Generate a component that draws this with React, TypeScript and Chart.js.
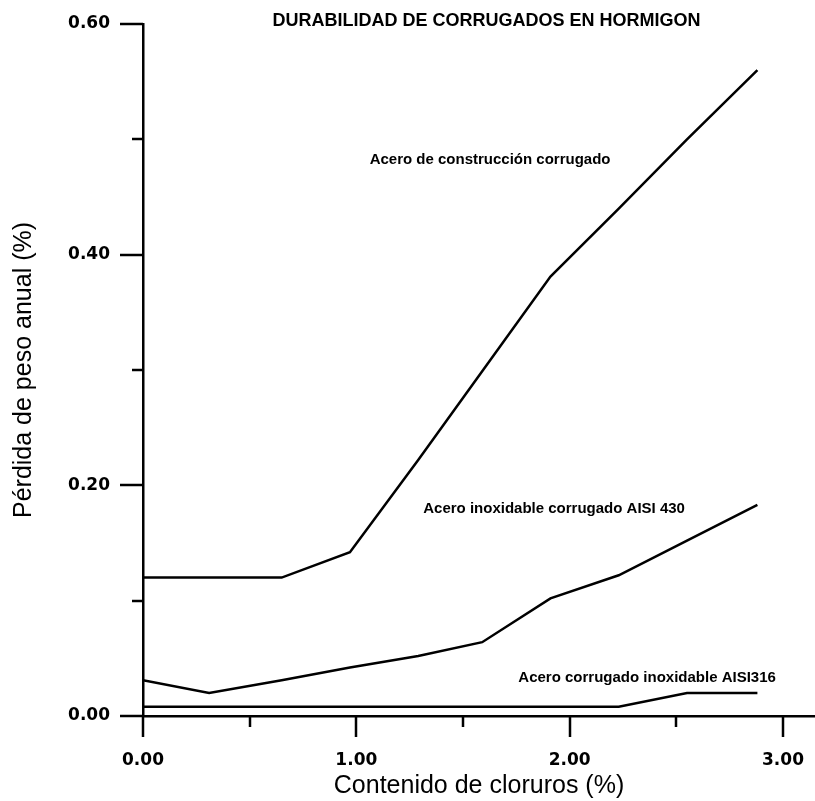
import React, { useEffect, useRef } from "react";
import { Chart, registerables } from "chart.js";

Chart.register(...registerables);

// ---- data ----
const chlorideContent = [0, 0.31, 0.65, 0.97, 1.29, 1.59, 1.91, 2.23, 2.55, 2.88];
const constructionSteel = [0.12, 0.12, 0.12, 0.142, 0.222, 0.299, 0.381, 0.44, 0.5, 0.56];
const stainless430 = [0.031, 0.02, 0.031, 0.042, 0.052, 0.064, 0.102, 0.122, 0.152, 0.183];
const stainless316 = [0.008, 0.008, 0.008, 0.008, 0.008, 0.008, 0.008, 0.008, 0.02, 0.02];

const seriesNames = [
  "Acero de construcción corrugado",
  "Acero inoxidable corrugado AISI 430",
  "Acero corrugado inoxidable AISI316",
];
const chartTitle = "DURABILIDAD DE CORRUGADOS EN HORMIGON";
const xAxisTitle = "Contenido de cloruros (%)";
const yAxisTitle = "Pérdida de peso anual (%)";

// axis ranges / tick steps
const xRange = [0, 3.15];
const yRange = [0, 0.6];
const xTickStep = 0.5;
const yTickStep = 0.1;

// label anchors (data coordinates, layout only)
const labelAnchorX = [1.627, 1.927, 2.363];
const labelAnchorY = [0.482, 0.1795, 0.033];
const titleAnchorX = 1.61;

const TICK_FONT = { family: "'DejaVu Sans', sans-serif", size: 17, weight: "bold" as const };
const SANS = "'Liberation Sans', Arial, sans-serif";

const isMajorX = (v: number) => Math.abs(v - Math.round(v)) < 1e-6;
const isMajorY = (v: number) => Math.round(v * 10) % 2 === 0;

const decorPlugin = {
  id: "decor",
  afterDraw(chart: any) {
    const { ctx, scales, chartArea } = chart;
    const xs = scales.x;
    const ys = scales.y;
    ctx.save();
    ctx.strokeStyle = "#000";
    ctx.lineWidth = 2.5;
    ctx.lineCap = "butt";
    xs.ticks.forEach((t: any) => {
      const px = Math.round(xs.getPixelForValue(t.value));
      const len = isMajorX(t.value) ? 21 : 11;
      ctx.beginPath();
      ctx.moveTo(px, chartArea.bottom);
      ctx.lineTo(px, chartArea.bottom + len);
      ctx.stroke();
    });
    ys.ticks.forEach((t: any) => {
      const py = Math.round(ys.getPixelForValue(t.value));
      const len = isMajorY(t.value) ? 23 : 11;
      ctx.beginPath();
      ctx.moveTo(chartArea.left, py);
      ctx.lineTo(chartArea.left - len, py);
      ctx.stroke();
    });
    ctx.fillStyle = "#000";
    ctx.textAlign = "center";
    ctx.textBaseline = "middle";
    ctx.font = `bold 18px ${SANS}`;
    ctx.fillText(chartTitle, xs.getPixelForValue(titleAnchorX), chartArea.top - 3);
    ctx.font = `bold 15px ${SANS}`;
    seriesNames.forEach((name, i) => {
      ctx.fillText(name, xs.getPixelForValue(labelAnchorX[i]), ys.getPixelForValue(labelAnchorY[i]));
    });
    ctx.restore();
  },
};

export default function App() {
  const canvasRef = useRef<HTMLCanvasElement | null>(null);

  useEffect(() => {
    if (!canvasRef.current) return;
    const toPoints = (ys: number[]) => chlorideContent.map((x, i) => ({ x, y: ys[i] }));
    const lineStyle = {
      borderColor: "#000",
      backgroundColor: "#000",
      borderWidth: 2.5,
      pointRadius: 0,
      tension: 0,
      fill: false,
    };
    const chart = new Chart(canvasRef.current, {
      type: "line",
      data: {
        datasets: [
          { label: seriesNames[0], data: toPoints(constructionSteel), ...lineStyle },
          { label: seriesNames[1], data: toPoints(stainless430), ...lineStyle },
          { label: seriesNames[2], data: toPoints(stainless316), ...lineStyle },
        ],
      },
      options: {
        responsive: false,
        animation: false,
        devicePixelRatio: 1,
        layout: { padding: { top: 24, right: 0, bottom: 0, left: 0 } },
        plugins: {
          legend: { display: false },
          tooltip: { enabled: false },
        },
        scales: {
          x: {
            type: "linear",
            min: xRange[0],
            max: xRange[1],
            afterFit: (scale: any) => {
              scale.height = 85;
            },
            border: { display: true, color: "#000", width: 2.5 },
            grid: {
              display: true,
              drawOnChartArea: false,
              drawTicks: true,
              tickLength: 34,
              tickColor: "rgba(0,0,0,0)",
            },
            ticks: {
              stepSize: xTickStep,
              includeBounds: false,
              autoSkip: false,
              maxRotation: 0,
              padding: 0,
              color: "#000",
              font: TICK_FONT,
              callback: (v: any) => (isMajorX(Number(v)) ? Number(v).toFixed(2) : ""),
            },
            title: {
              display: true,
              text: xAxisTitle,
              color: "#000",
              font: { family: SANS, size: 25, weight: "normal" },
              padding: { top: 0, bottom: 0 },
            },
          },
          y: {
            type: "linear",
            min: yRange[0],
            max: yRange[1],
            afterFit: (scale: any) => {
              scale.width = 143;
            },
            border: { display: true, color: "#000", width: 2.5 },
            grid: {
              display: true,
              drawOnChartArea: false,
              drawTicks: true,
              tickLength: 33,
              tickColor: "rgba(0,0,0,0)",
            },
            ticks: {
              stepSize: yTickStep,
              autoSkip: false,
              padding: 0,
              color: "#000",
              font: TICK_FONT,
              callback: (v: any) => (isMajorY(Number(v)) ? Number(v).toFixed(2) : ""),
            },
            title: {
              display: true,
              text: yAxisTitle,
              color: "#000",
              font: { family: SANS, size: 25, weight: "normal" },
              padding: { top: 9, bottom: 0 },
            },
          },
        },
      },
      plugins: [decorPlugin],
    } as any);
    return () => chart.destroy();
  }, []);

  return (
    <div style={{ position: "fixed", left: 0, top: 0, width: 815, height: 801, background: "#fff" }}>
      <canvas ref={canvasRef} width={815} height={801} style={{ display: "block" }} />
    </div>
  );
}
